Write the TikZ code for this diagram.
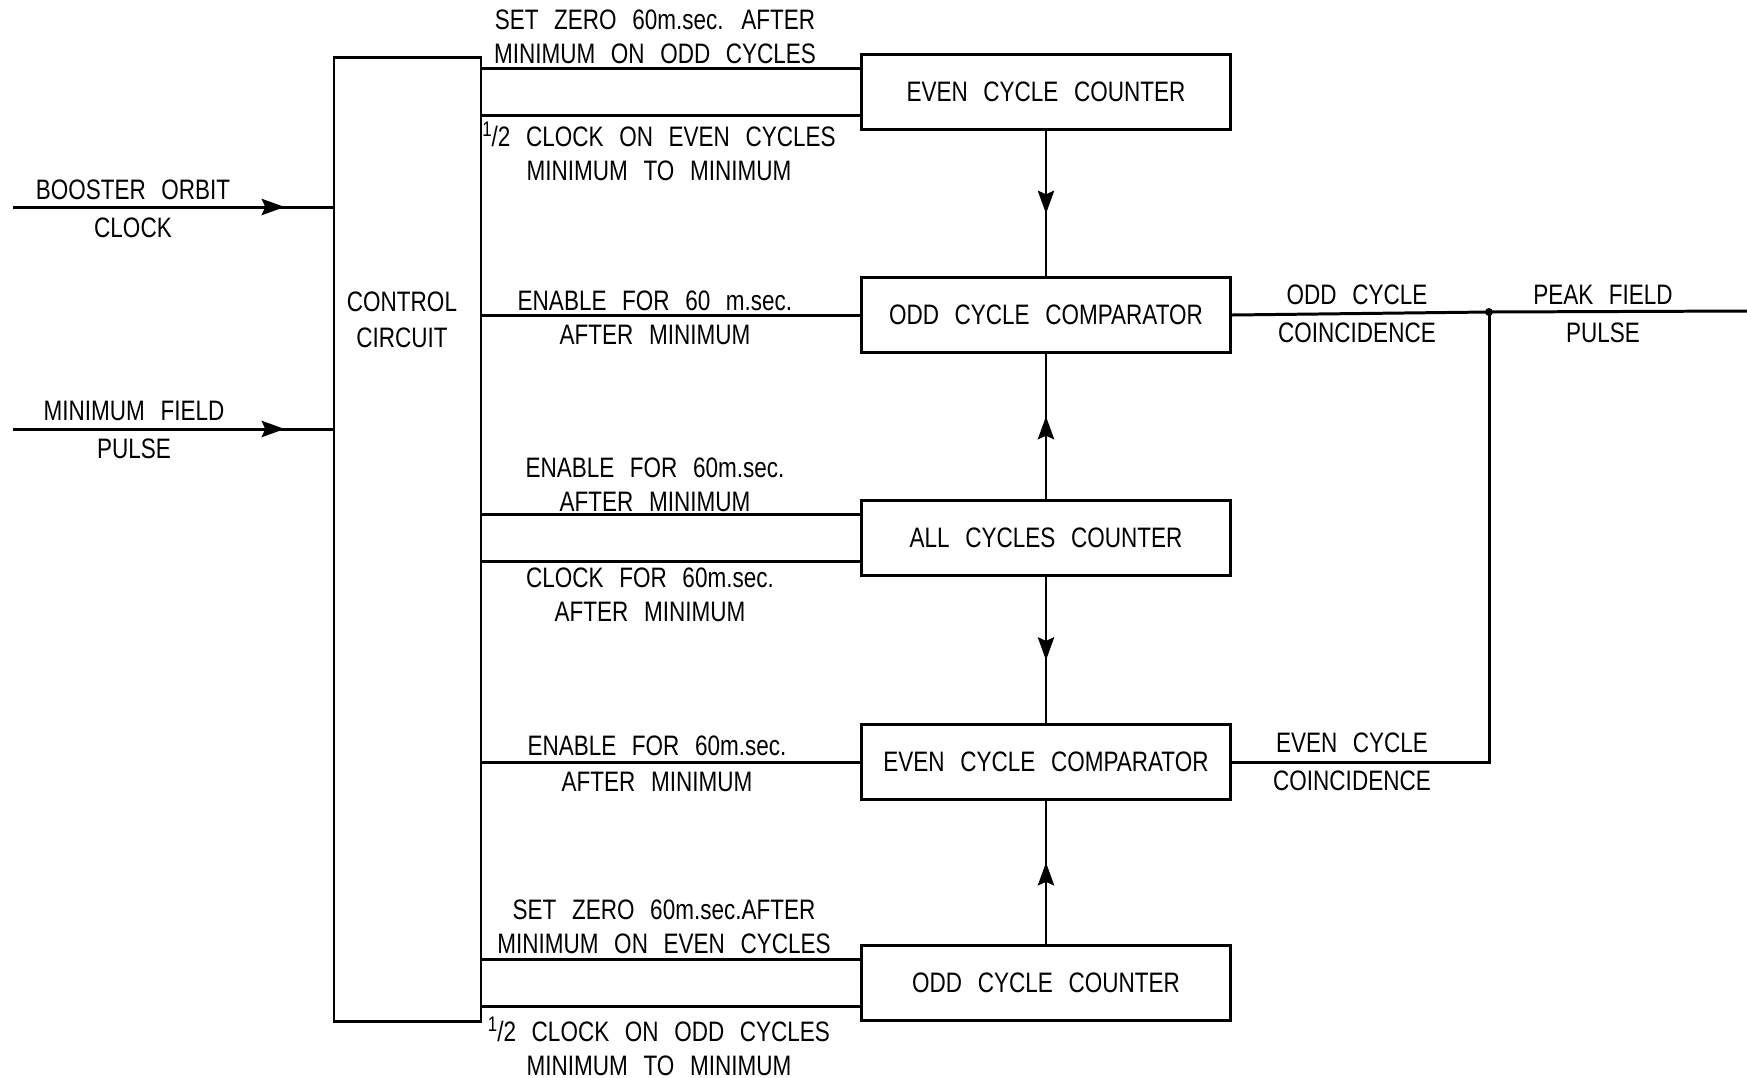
\documentclass[tikz,border=0pt]{standalone}
\usepackage{fontspec}
\setmainfont[FakeStretch=0.8,WordSpace=2.5]{Liberation Sans}
\usetikzlibrary{arrows.meta,decorations.markings}

\newcommand{\halfsym}{\textsuperscript{1}\kern-0.5pt/2}

\tikzset{
  every node/.style={font=\fontsize{8}{9.7}\selectfont},
  block/.style={draw, line width=0.8pt, minimum width=3.69cm, minimum height=0.75cm, inner sep=0pt},
  lbl/.style={align=center, inner sep=0pt},
  wire/.style={line width=0.85pt},
  midarrow/.style={postaction={decorate}, decoration={markings,
      mark=at position #1 with {\arrow{Stealth[length=6.5pt,width=4.6pt,inset=1pt]}}}}
}

\begin{document}
\begin{tikzpicture}[x=0.01cm, y=-0.01cm]
    % page frame
    \useasboundingbox (0,0) rectangle (1747,1078);
    % control circuit
    \node[block, minimum width=1.47cm, minimum height=9.63cm] (ctrl) at (407.5,539.5) {};
    \node[lbl] (ctrltxt) at (402,320) {CONTROL\\[0.5pt]CIRCUIT};
    % counters and comparators
    \node[block] (evencnt) at (1046,92) {EVEN CYCLE COUNTER};
    \node[block] (oddcmp) at (1046,315) {ODD CYCLE COMPARATOR};
    \node[block] (allcnt) at (1046,538) {ALL CYCLES COUNTER};
    \node[block] (evencmp) at (1046,762) {EVEN CYCLE COMPARATOR};
    \node[block] (oddcnt) at (1046,983) {ODD CYCLE COUNTER};
    % inputs
    \coordinate (clkin) at (13,207);
    \coordinate (minin) at (13,429);
    \draw[wire, midarrow=0.85] (clkin) -- (clkin -| ctrl.west);
    \draw[wire, midarrow=0.85] (minin) -- (minin -| ctrl.west);
    \node[lbl] (clklbl) at (133,209) {BOOSTER ORBIT\\[1pt]CLOCK};
    \node[lbl] (minlbl) at (134,430) {MINIMUM FIELD\\[1pt]PULSE};
    % two wires into each counter
    \foreach \b in {evencnt,allcnt,oddcnt}{
      \path (\b.north west) -- (\b.south west) coordinate[pos=0.2] (\b-a) coordinate[pos=0.8] (\b-b);
      \draw[wire] (\b-a -| ctrl.east) -- (\b-a);
      \draw[wire] (\b-b -| ctrl.east) -- (\b-b);
    }
    % one wire into each comparator
    \draw[wire] (oddcmp.west -| ctrl.east) -- (oddcmp.west);
    \draw[wire] (evencmp.west -| ctrl.east) -- (evencmp.west);
    % wire labels
    \node[lbl] (setodd) at (655,37) {SET ZERO 60m.sec. AFTER\\MINIMUM ON ODD CYCLES};
    \node[lbl] (clkeven) at (659,151) {\halfsym\ CLOCK ON EVEN CYCLES\\MINIMUM TO MINIMUM};
    \node[lbl] (enodd) at (655,318) {ENABLE FOR 60 m.sec.\\AFTER MINIMUM};
    \node[lbl] (enall) at (655,485) {ENABLE FOR 60m.sec.\\AFTER MINIMUM};
    \node[lbl] (clkall) at (650,595) {CLOCK FOR 60m.sec.\\AFTER MINIMUM};
    \node[lbl] (eneven) at (657,764) {ENABLE FOR 60m.sec.\\[0.5pt]AFTER MINIMUM};
    \node[lbl] (seteven) at (664,927) {SET ZERO 60m.sec.AFTER\\MINIMUM ON EVEN CYCLES};
    \node[lbl] (clkodd) at (659,1046) {\halfsym\ CLOCK ON ODD CYCLES\\MINIMUM TO MINIMUM};
    % counter to comparator
    \draw[wire, midarrow=0.57] (evencnt.south) -- (oddcmp.north);
    \draw[wire, midarrow=0.57] (allcnt.north) -- (oddcmp.south);
    \draw[wire, midarrow=0.57] (allcnt.south) -- (evencmp.north);
    \draw[wire, midarrow=0.57] (oddcnt.north) -- (evencmp.south);
    % coincidence outputs
    \coordinate (jn) at (1489,312);
    \coordinate (peakout) at (1747,311);
    \draw[wire] (oddcmp.east) -- (jn) -- (peakout);
    \draw[wire] (evencmp.east) -- (evencmp.east -| jn) -- (jn);
    \fill (jn) circle (4);
    \node[lbl] (oddco) at (1357,314) {ODD CYCLE\\[1pt]COINCIDENCE};
    \node[lbl] (peak) at (1603,314) {PEAK FIELD\\[1pt]PULSE};
    \node[lbl] (evenco) at (1352,762) {EVEN CYCLE\\[1pt]COINCIDENCE};
\end{tikzpicture}
\end{document}
